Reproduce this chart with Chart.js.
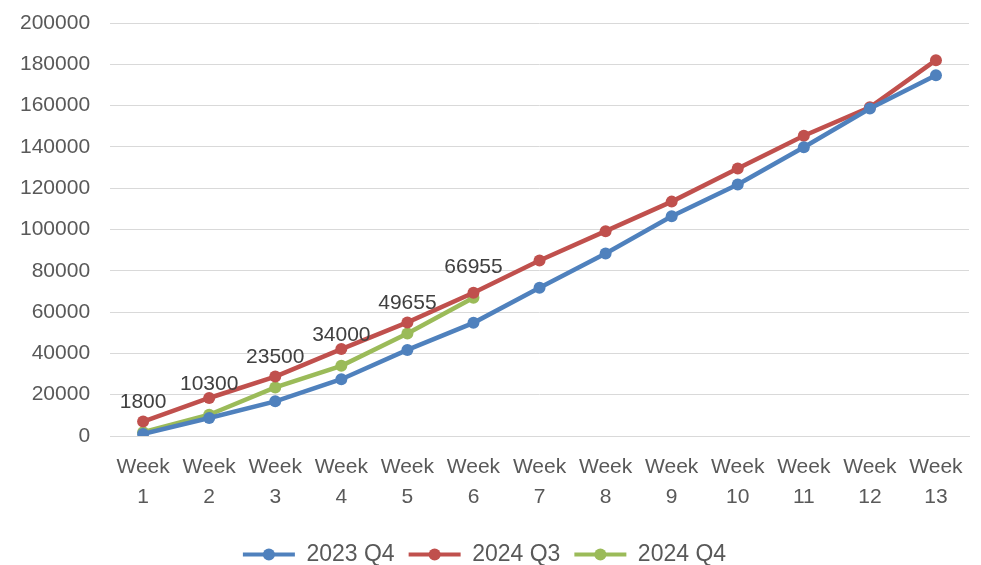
<!DOCTYPE html>
<html>
<head>
<meta charset="utf-8">
<script src="https://cdn.jsdelivr.net/npm/chart.js@4"></script>
<style>
  html, body { margin: 0; padding: 0; background: #fff; }
</style>
</head>
<body>
<canvas id="myChart" width="981" height="565"></canvas>
<script>
const weeks = ['1', '2', '3', '4', '5', '6', '7', '8', '9', '10', '11', '12', '13'];
const labels = weeks.map(w => ['Week', w]);

const q4_2023 = [1000, 8700, 16800, 27500, 41700, 54800, 71800, 88400, 106400, 121800, 139800, 158600, 174700];
const q3_2024 = [7000, 18400, 28800, 42100, 55000, 69400, 85000, 99200, 113500, 129500, 145400, 159200, 182000];
const q4_2024 = [1800, 10300, 23500, 34000, 49655, 66955];

const FONT = '"Liberation Sans", Arial, sans-serif';

// labels over the 2024 Q4 points
const valueLabels = {
  id: 'valueLabels',
  afterDatasetsDraw(chart) {
    const c = chart.ctx;
    const meta = chart.getDatasetMeta(2);
    c.save();
    c.font = '21px ' + FONT;
    c.fillStyle = '#404040';
    c.textAlign = 'center';
    c.textBaseline = 'bottom';
    meta.data.forEach((pt, i) => {
      c.fillText(String(q4_2024[i]), pt.x, pt.y - 20);
    });
    c.restore();
  },
  // dot in the middle of each legend line
  afterDraw(chart) {
    const lg = chart.legend;
    if (!lg || !lg.legendHitBoxes) return;
    const c = chart.ctx;
    c.save();
    lg.legendHitBoxes.forEach((hb, i) => {
      c.fillStyle = chart.data.datasets[i].borderColor;
      c.beginPath();
      c.arc(hb.left + 26, hb.top + hb.height / 2, 6, 0, Math.PI * 2);
      c.fill();
    });
    c.restore();
  }
};

function series(label, data, color) {
  return {
    label: label,
    data: data,
    borderColor: color,
    backgroundColor: color,
    borderWidth: 4.5,
    pointRadius: 6,
    pointHoverRadius: 6,
    pointBorderWidth: 0,
    tension: 0
  };
}

new Chart(document.querySelector('#myChart'), {
  type: 'line',
  data: {
    labels: labels,
    datasets: [
      series('2023 Q4', q4_2023, '#4f81bd'),
      series('2024 Q3', q3_2024, '#c0504d'),
      series('2024 Q4', q4_2024, '#9bbb59')
    ]
  },
  options: {
    responsive: false,
    animation: false,
    layout: { padding: { top: 0, right: 12, left: 0, bottom: -11 } },
    plugins: {
      legend: {
        position: 'bottom',
        labels: {
          color: '#595959',
          font: { size: 23, family: FONT },
          boxWidth: 52,
          boxHeight: 4,
          padding: 14,
          generateLabels(chart) {
            return chart.data.datasets.map((ds, i) => ({
              text: ds.label,
              fillStyle: ds.borderColor,
              strokeStyle: ds.borderColor,
              lineWidth: 0,
              fontColor: '#595959',
              datasetIndex: i
            }));
          }
        }
      },
      tooltip: { enabled: false }
    },
    scales: {
      x: {
        offset: true,
        grid: { display: false, drawTicks: false },
        border: { color: '#d9d9d9', width: 1 },
        afterFit(scale) { scale.height = 93; },
        ticks: {
          color: '#595959',
          font: { size: 21, family: FONT, lineHeight: 1.45 },
          maxRotation: 0,
          padding: 16,
          autoSkip: false
        }
      },
      y: {
        min: 0,
        max: 200000,
        grid: { color: '#d9d9d9', drawTicks: false },
        border: { display: false },
        afterFit(scale) { scale.paddingTop = 23; },
        ticks: {
          stepSize: 20000,
          color: '#595959',
          font: { size: 21, family: FONT },
          padding: 20,
          callback: v => String(v)
        }
      }
    }
  },
  plugins: [valueLabels]
});
</script>
</body>
</html>
